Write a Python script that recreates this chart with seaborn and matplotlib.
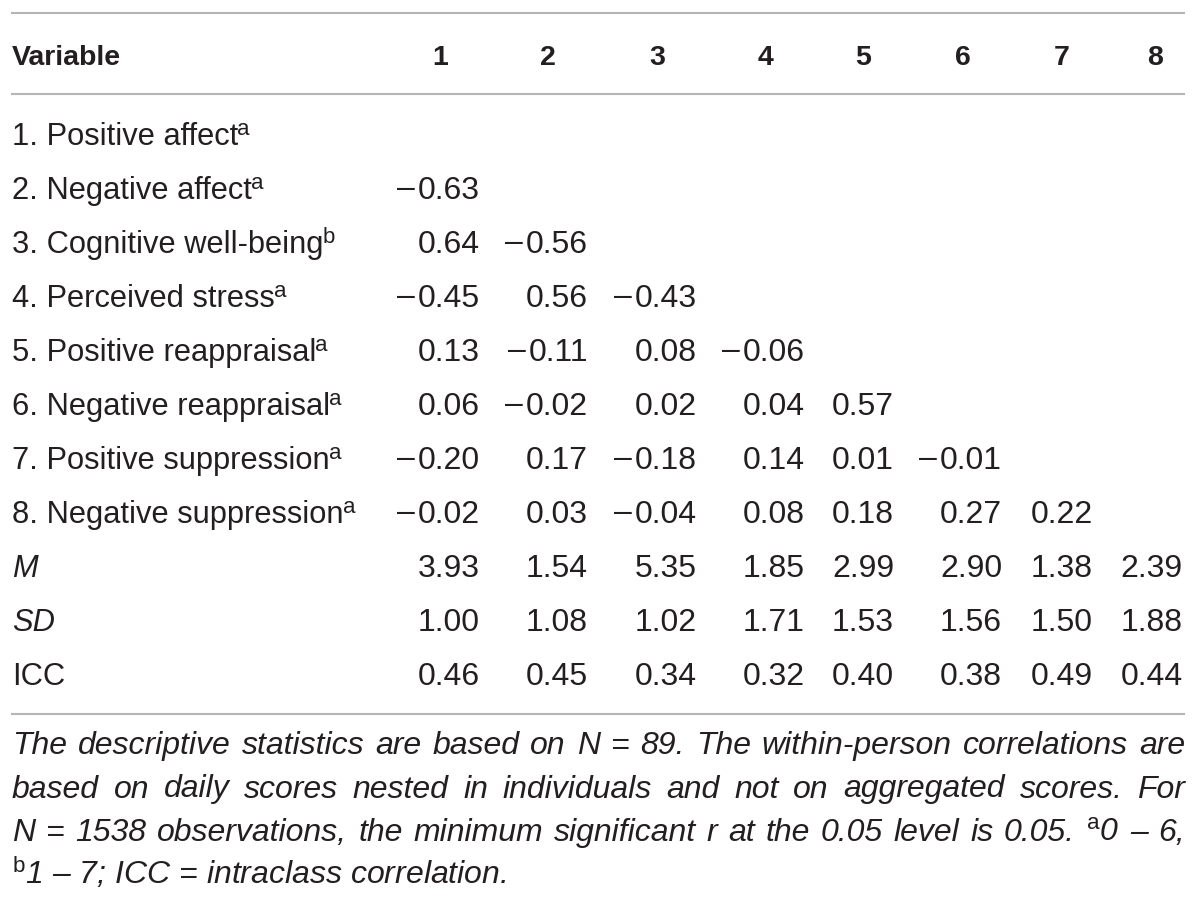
import seaborn as sns
import matplotlib.pyplot as plt

# Within-person correlations table, recreated as text on a blank seaborn canvas
variables = ["Positive affect", "Negative affect", "Cognitive well-being", "Perceived stress",
             "Positive reappraisal", "Negative reappraisal", "Positive suppression",
             "Negative suppression"]
scale_marks = ["a", "a", "b", "a", "a", "a", "a", "a"]
col_headers = ["1", "2", "3", "4", "5", "6", "7", "8"]

# lower triangle, one list per variable row
corr_rows = [
    [],
    [-0.63],
    [0.64, -0.56],
    [-0.45, 0.56, -0.43],
    [0.13, -0.11, 0.08, -0.06],
    [0.06, -0.02, 0.02, 0.04, 0.57],
    [-0.20, 0.17, -0.18, 0.14, 0.01, -0.01],
    [-0.02, 0.03, -0.04, 0.08, 0.18, 0.27, 0.22],
]
means = [3.93, 1.54, 5.35, 1.85, 2.99, 2.90, 1.38, 2.39]
sds = [1.00, 1.08, 1.02, 1.71, 1.53, 1.56, 1.50, 1.88]
iccs = [0.46, 0.45, 0.34, 0.32, 0.40, 0.38, 0.49, 0.44]

footnote = [
    "The descriptive statistics are based on N = 89. The within-person correlations are",
    "based on daily scores nested in individuals and not on aggregated scores. For",
    "N = 1538 observations, the minimum significant r at the 0.05 level is 0.05. $^{\\mathrm{a}}$0 \u2013 6,",
    "$^{\\mathrm{b}}$1 \u2013 7; ICC = intraclass correlation.",
]

#Style
sns.set_theme(style="white")
plt.rcParams['font.family'] = ['Liberation Sans', 'DejaVu Sans']
plt.rcParams['mathtext.fontset'] = 'custom'
plt.rcParams['mathtext.rm'] = 'Liberation Sans'
plt.rcParams['mathtext.it'] = 'Liberation Sans:italic'
plt.rcParams['mathtext.bf'] = 'Liberation Sans:bold'

txt_color = '#231f20'
rule_color = '#b5b5b5'
fs_head = 20.5
fs_label = 22.2
fs_sup = 16
fs_num = 23
fs_foot = 23
left, right = 12, 1185

#Pixel-like canvas
fig = plt.figure(figsize=(12, 9.02), dpi=100)
ax = fig.add_axes([0, 0, 1, 1])
ax.set_xlim(0, 1200)
ax.set_ylim(902, 0)
ax.axis('off')
renderer = fig.canvas.get_renderer()

col_centers = [440, 548, 657, 765, 863, 963, 1062, 1155]
col_rights = [480, 588, 697, 805, 894, 1002, 1093, 1183]

def put_number(x, y, v):
    # digits right-aligned, the minus set as a dash with a little air before the digits
    t = ax.text(x, y, f"{abs(v):.2f}", fontsize=fs_num, color=txt_color, va='baseline', ha='right')
    if v < 0:
        x0 = t.get_window_extent(renderer).x0
        ax.text(x0 - 3, y - 2.5, "\u2013", fontsize=fs_num, color=txt_color, va='baseline', ha='right')

#Rules
for y in [13, 94, 714]:
    ax.plot([11, right], [y, y], color=rule_color, lw=1.5, solid_capstyle='butt')

#Header
ax.text(left, 65, "Variable", fontsize=fs_head, fontweight='bold', color=txt_color, va='baseline')
for cx, h in zip(col_centers, col_headers):
    ax.text(cx, 65, h, fontsize=fs_head, fontweight='bold', color=txt_color, va='baseline', ha='center')

#Body rows
row_y = [145 + 54 * i for i in range(11)]
for i, (name, mark) in enumerate(zip(variables, scale_marks)):
    t = ax.text(left, row_y[i], f"{i + 1}. {name}", fontsize=fs_label,
                color=txt_color, va='baseline')
    x1 = t.get_window_extent(renderer).x1
    ax.text(x1 - 1, row_y[i] - 10, mark, fontsize=fs_sup, color=txt_color, va='baseline')
    for j, v in enumerate(corr_rows[i]):
        put_number(col_rights[j], row_y[i], v)

stat_rows = [("M", means, 'italic'), ("SD", sds, 'italic'), ("ICC", iccs, 'normal')]
for k, (lab, vals, style) in enumerate(stat_rows):
    y = row_y[8 + k]
    ax.text(left, y, lab, fontsize=fs_label, fontstyle=style, color=txt_color, va='baseline')
    for j, v in enumerate(vals):
        put_number(col_rights[j], y, v)

#Footnote, justified like the journal layout
foot_y = [754, 797.5, 841, 884.5]
for n, (line, y) in enumerate(zip(footnote, foot_y)):
    if n == len(footnote) - 1:
        ax.text(left, y, line, fontsize=fs_foot, fontstyle='italic', color=txt_color, va='baseline')
        continue
    words = line.split(" ")
    texts = [ax.text(0, y, w, fontsize=fs_foot, fontstyle='italic', color=txt_color, va='baseline')
             for w in words]
    widths = [t.get_window_extent(renderer).width for t in texts]
    gap = (right - left - sum(widths)) / (len(words) - 1)
    x = left
    for t, w in zip(texts, widths):
        t.set_x(x)
        x += w + gap

plt.savefig("out.png", dpi=100)
